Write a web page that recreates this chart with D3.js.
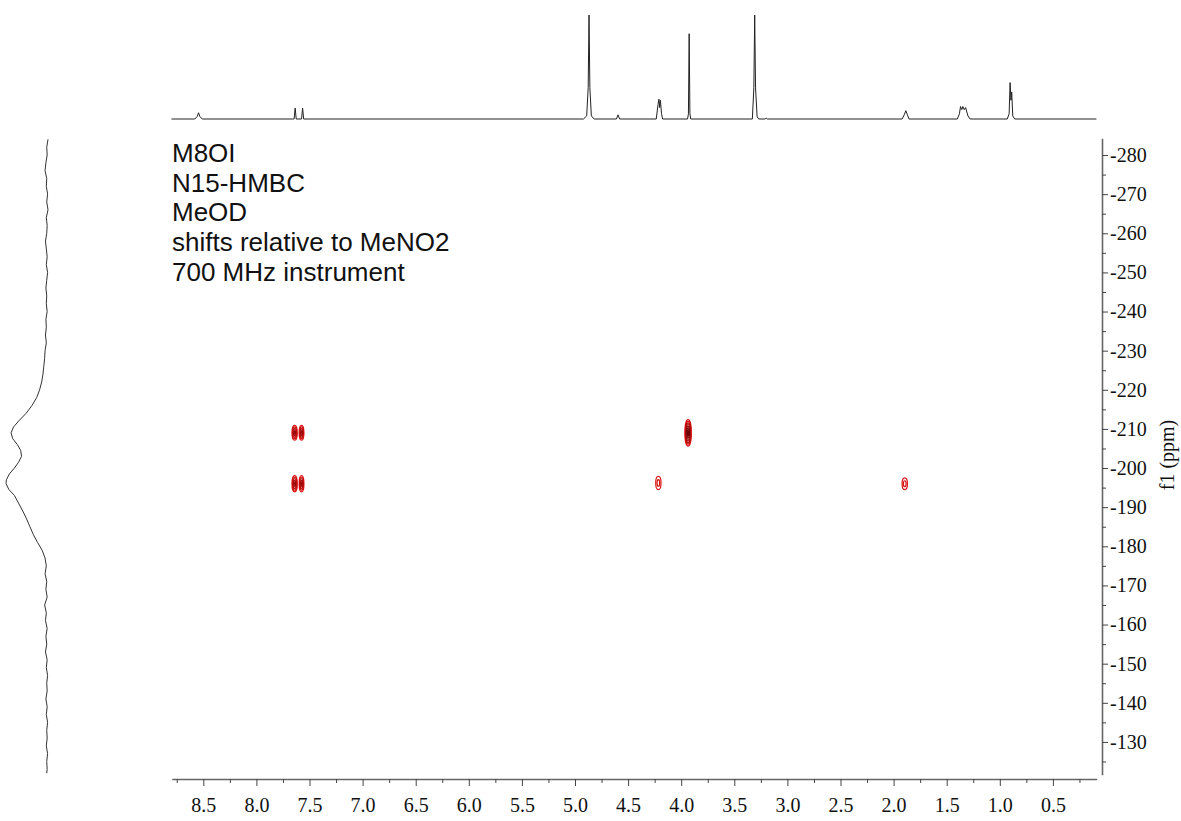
<!DOCTYPE html>
<html>
<head>
<meta charset="utf-8">
<script src="https://cdn.jsdelivr.net/npm/d3@7"></script>
<style>
  body { margin: 0; background: #fff; }
</style>
</head>
<body>
<div id="hmbc"></div>
<script>
// 1H trace on top: [ppm, relative intensity]
const protonTrace = [
  [8.80, 0], [8.58, 0], [8.557, 0.025], [8.545, 0.06], [8.533, 0.025], [8.51, 0],
  [7.66, 0], [7.645, 0], [7.635, 0.105], [7.625, 0], [7.575, 0], [7.565, 0.105], [7.555, 0],
  [4.92, 0], [4.89, 0.03], [4.876, 0.3], [4.868, 1.0], [4.86, 0.3], [4.846, 0.03], [4.82, 0],
  [4.61, 0], [4.595, 0.04], [4.58, 0],
  [4.235, 0], [4.218, 0.14], [4.21, 0.19], [4.203, 0.11], [4.196, 0.18], [4.185, 0.05], [4.175, 0],
  [3.94, 0], [3.932, 0.05], [3.925, 0.82], [3.918, 0.05], [3.91, 0],
  [3.33, 0], [3.316, 0.3], [3.308, 1.0], [3.30, 0.3], [3.285, 0.02], [3.27, 0],
  [3.21, 0], [3.20, 0.01], [3.19, 0],
  [1.92, 0], [1.90, 0.04], [1.885, 0.08], [1.87, 0.04], [1.855, 0],
  [1.40, 0], [1.38, 0.05], [1.37, 0.12], [1.358, 0.09], [1.348, 0.12], [1.335, 0.09],
  [1.322, 0.11], [1.30, 0.03], [1.28, 0],
  [0.93, 0], [0.912, 0.05], [0.903, 0.35], [0.895, 0.18], [0.888, 0.26], [0.878, 0.03], [0.86, 0],
  [0.09, 0]
];

// 15N projection on the left: [ppm, relative intensity]
const nitrogenTrace = [
  [-284, 0.00], [-282, 0.03], [-280, 0.02], [-278, 0.05], [-276, 0.07], [-274, 0.03],
  [-272, 0.04], [-270, 0.01], [-268, 0.03], [-266, 0.00], [-264, 0.04], [-262, 0.02],
  [-260, 0.03], [-258, 0.06], [-256, 0.04], [-254, 0.02], [-252, 0.04], [-250, 0.01],
  [-248, 0.03], [-246, 0.05], [-244, 0.03], [-242, 0.04], [-240, 0.02], [-238, 0.05],
  [-236, 0.04], [-234, 0.06], [-232, 0.04], [-230, 0.07], [-228, 0.08], [-226, 0.10],
  [-224, 0.12], [-222, 0.15], [-220, 0.20], [-218, 0.27], [-216, 0.38], [-214, 0.52],
  [-212, 0.70], [-210.5, 0.82], [-209, 0.88], [-207.5, 0.84], [-206, 0.73], [-204.5, 0.65],
  [-203, 0.63], [-201.5, 0.70], [-200, 0.80], [-198.5, 0.92], [-197, 0.99], [-196, 1.00],
  [-194.5, 0.93], [-193, 0.80], [-191, 0.70], [-189, 0.60], [-187, 0.51], [-185, 0.43],
  [-183, 0.35], [-181, 0.25], [-179, 0.14], [-177, 0.07], [-175, 0.04], [-173, 0.07],
  [-171, 0.03], [-169, 0.05], [-167, 0.02], [-165, 0.08], [-163, 0.04], [-161, 0.06],
  [-159, 0.02], [-157, 0.05], [-155, 0.03], [-153, 0.06], [-151, 0.02], [-149, 0.04],
  [-147, 0.01], [-145, 0.03], [-143, 0.02], [-141, 0.05], [-139, 0.02], [-137, 0.04],
  [-135, 0.01], [-133, 0.03], [-131, 0.02], [-129, 0.04], [-127, 0.01], [-125, 0.03],
  [-123, 0.02], [-122, 0.03]
];

// cross peaks
const peakH = [7.64, 7.575, 3.935, 7.64, 7.575, 4.215, 1.895];
const peakN = [-209, -209, -209, -196, -196, -196.2, -196];
const peakLevels = [5, 5, 8, 5, 5, 2, 2];
const peakWidthH = [0.05, 0.045, 0.06, 0.05, 0.045, 0.05, 0.05];
const peakWidthN = [3.8, 3.8, 6.8, 4.2, 4.2, 3.4, 3.0];

// axis ticks
const xMajor = [8.5, 8.0, 7.5, 7.0, 6.5, 6.0, 5.5, 5.0, 4.5, 4.0, 3.5, 3.0, 2.5, 2.0, 1.5, 1.0, 0.5];
const xMinor = [8.75, 8.25, 7.75, 7.25, 6.75, 6.25, 5.75, 5.25, 4.75, 4.25, 3.75, 3.25, 2.75, 2.25, 1.75, 1.25, 0.75, 0.25];
const yMajor = [-280, -270, -260, -250, -240, -230, -220, -210, -200, -190, -180, -170, -160, -150, -140, -130];
const yMinor = [-275, -265, -255, -245, -235, -225, -215, -205, -195, -185, -175, -165, -155, -145, -135, -125];

const infoLines = ["M8OI", "N15-HMBC", "MeOD", "shifts relative to MeNO2", "700 MHz instrument"];

const width = 1181;
const height = 821;

const svg = d3.select("#hmbc").append("svg")
  .attr("width", width)
  .attr("height", height);

// scales
const x = d3.scaleLinear().domain([8.7976, 0.0876]).range([171.7, 1096.7]);
const y = d3.scaleLinear().domain([-284.3, -121.6]).range([138.2, 774.8]);
const topY = d3.scaleLinear().domain([0, 1]).range([119, 15]);
const leftX = d3.scaleLinear().domain([0, 1]).range([48, 6]);

// top 1H spectrum
const topLine = d3.line()
  .x(d => x(d[0]))
  .y(d => topY(d[1]));

svg.append("path")
  .datum(protonTrace)
  .attr("d", topLine)
  .attr("fill", "none")
  .attr("stroke", "#222")
  .attr("stroke-width", 1);

// left 15N projection
const leftLine = d3.line()
  .x(d => leftX(d[1]))
  .y(d => y(d[0]));

svg.append("path")
  .datum(nitrogenTrace)
  .attr("d", leftLine)
  .attr("fill", "none")
  .attr("stroke", "#333")
  .attr("stroke-width", 1);

// contours
const levelColor = d3.interpolateRgb("#e01010", "#3a0000");
peakH.forEach((h, p) => {
  const n = peakN[p];
  const levels = peakLevels[p];
  const rx = Math.abs(x(h + peakWidthH[p] / 2) - x(h));
  const ry = Math.abs(y(n + peakWidthN[p] / 2) - y(n));
  for (let i = 0; i < levels; i++) {
    const f = 1 - i / levels;
    svg.append("ellipse")
      .attr("cx", x(h))
      .attr("cy", y(n))
      .attr("rx", Math.max(rx * f, 0.6))
      .attr("ry", ry * f)
      .attr("fill", "none")
      .attr("stroke", levelColor(i / 9))
      .attr("stroke-width", 1.2);
  }
});

// x axis
const xAxisY = 779;
svg.append("g")
  .attr("transform", `translate(0,${xAxisY})`)
  .call(d3.axisBottom(x).tickValues(xMajor).tickSize(7).tickSizeOuter(0)
    .tickPadding(12).tickFormat(d3.format(".1f")));
svg.append("g")
  .attr("transform", `translate(0,${xAxisY})`)
  .call(d3.axisBottom(x).tickValues(xMinor).tickSize(4).tickFormat(""))
  .select(".domain").remove();

// y axis on the right
const yAxisX = 1102;
svg.append("g")
  .attr("transform", `translate(${yAxisX},0)`)
  .call(d3.axisRight(y).tickValues(yMajor).tickSize(6).tickSizeOuter(0)
    .tickPadding(2).tickFormat(d => String(d)));
svg.append("g")
  .attr("transform", `translate(${yAxisX},0)`)
  .call(d3.axisRight(y).tickValues(yMinor).tickSize(4).tickFormat(""))
  .select(".domain").remove();

svg.selectAll(".domain")
  .attr("stroke", "#666")
  .attr("stroke-width", 1.6);
svg.selectAll(".tick line").attr("stroke", "#444");
svg.selectAll(".tick text")
  .attr("fill", "#111")
  .style("font-family", "'Liberation Serif', 'Times New Roman', serif")
  .style("font-size", "20px");

// axis title
svg.append("text")
  .attr("transform", "translate(1167,455) rotate(-90)")
  .attr("text-anchor", "middle")
  .attr("dy", "0.35em")
  .style("font-family", "'Liberation Serif', 'Times New Roman', serif")
  .style("font-size", "20px")
  .attr("fill", "#111")
  .text("f1 (ppm)");

// sample info
infoLines.forEach((line, i) => {
  svg.append("text")
    .attr("x", 172)
    .attr("y", 162 + i * 29.7)
    .style("font-family", "'Liberation Sans', Arial, sans-serif")
    .style("font-size", "26px")
    .attr("fill", "#111")
    .text(line);
});
</script>
</body>
</html>
